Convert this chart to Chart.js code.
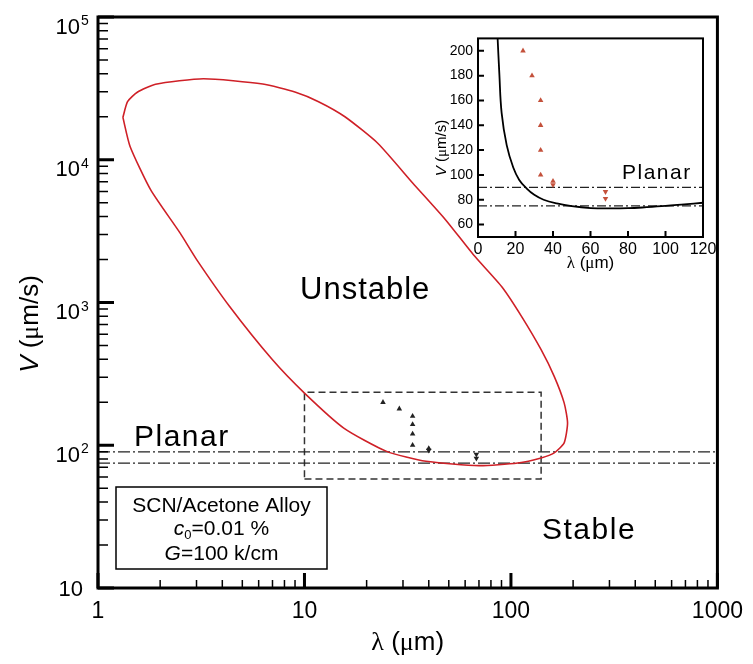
<!DOCTYPE html>
<html>
<head>
<meta charset="utf-8">
<script src="https://cdn.jsdelivr.net/npm/chart.js@4.4.1/dist/chart.umd.min.js"></script>
<style>
  html, body { margin: 0; padding: 0; background: #fff; }
  #wrap { position: relative; width: 753px; height: 664px; }
  #main { position: absolute; left: 0; top: 0; }
  #inset { position: absolute; left: 430px; top: 25px; }
</style>
</head>
<body>
<div id="wrap">
  <canvas id="main" width="753" height="664"></canvas>
  <canvas id="inset" width="295" height="255"></canvas>
</div>
<script>
// red stability loop (lambda in um, V in um/s), traced clockwise from the left tip
const loopLambda = [1.32, 1.39, 1.55, 1.9, 3.24, 6.28, 9.06, 11.7, 15.7, 22.7, 33.5, 48.3, 65.8, 90.3,
  112.5, 140, 162, 181, 188, 181, 162, 140, 108, 70, 38.8, 25, 15.5, 10, 7, 4.34, 3.01, 2.5, 1.8, 1.43, 1.32];
const loopV = [19800, 25500, 29700, 33800, 36900, 33900, 29700, 25500, 20000, 13000, 6850, 3790, 2160, 1290,
  800, 467, 304, 198, 143, 104, 88.4, 81.5, 75.2, 72, 77.2, 90.6, 132, 232, 397, 938, 1990, 3060, 6150, 12400, 19800];

// measured points
const upLambda = [24, 28.8, 33.4, 33.4, 33.4, 33.4, 40];
const upV = [200, 180, 160, 140, 120, 100, 95];
const downLambda = [40, 68, 68];
const downV = [92, 86.5, 81];

// planar limits (dash-dot lines)
const planarV = [90, 75];

// dashed box marking the inset region
const boxLambda = [10, 140];
const boxV = [58, 235];

// inset marginal stability curve
const insetLambda = [10.4, 11.4, 12.6, 15.3, 18.8, 22, 26, 30, 35, 42, 50, 60, 70, 80, 90, 100, 110, 120];
const insetV = [212, 181, 150, 124, 106, 96, 89, 84, 80, 77, 74.8, 73.3, 73, 73.2, 74, 75, 76.3, 77.6];

// axes
const xRangeMain = [1, 1000];
const yRangeMain = [10, 100000];
const xTicksMain = [1, 10, 100, 1000];
const yTicksMain = [10, 100, 1000, 10000, 100000];
const yTickExp = ['', '2', '3', '4', '5'];
const xRangeInset = [0, 120];
const yRangeInset = [50, 210];
const xTicksInset = [0, 20, 40, 60, 80, 100, 120];
const yTicksInset = [60, 80, 100, 120, 140, 160, 180, 200];

const SANS = '"Liberation Sans", Arial, sans-serif';
const SERIF = '"Liberation Serif", "Times New Roman", serif';
const RED = '#cf2027';
const INSET_RED = '#c4513b';

function pts(xs, ys) { return xs.map((x, i) => ({x: x, y: ys[i]})); }

function drawRuns(ctx, runs, x, y, align) {
  // runs: [text, font, dy]
  let w = 0;
  runs.forEach(r => { ctx.font = r[1]; w += ctx.measureText(r[0]).width; });
  let cx = align === 'center' ? x - w / 2 : x;
  ctx.textAlign = 'left';
  runs.forEach(r => {
    ctx.font = r[1];
    ctx.fillText(r[0], cx, y + (r[2] || 0));
    cx += ctx.measureText(r[0]).width;
  });
}

function lineSet(data, color, width, dash, tension) {
  return {data: data, showLine: true, borderColor: color, borderWidth: width, borderDash: dash || [],
    pointRadius: 0, fill: false, tension: tension || 0};
}

function markSet(data, color, r, rot) {
  return {data: data, showLine: false, pointStyle: 'triangle', pointRadius: r, pointRotation: rot,
    pointBackgroundColor: color, pointBorderWidth: 0, pointHoverRadius: r};
}

const planarLines = planarV.map(v => lineSet(pts(xRangeMain, [v, v]), '#222', 1.2, [12, 3, 2, 3]));
const boxData = pts([boxLambda[0], boxLambda[1], boxLambda[1], boxLambda[0], boxLambda[0]],
                    [boxV[0], boxV[0], boxV[1], boxV[1], boxV[0]]);

const mainDecor = {
  id: 'mainDecor',
  afterDatasetsDraw(chart) {
    const {ctx, chartArea: a, scales: {x, y}} = chart;
    ctx.save();
    ctx.strokeStyle = '#000';
    ctx.lineWidth = 1.5;
    ctx.beginPath();
    xTicksMain.slice(0, -1).forEach(d => {
      for (let k = 2; k < 10; k++) {
        const px = x.getPixelForValue(d * k);
        ctx.moveTo(px, a.bottom); ctx.lineTo(px, a.bottom - 8);
      }
    });
    yTicksMain.slice(0, -1).forEach(d => {
      for (let k = 2; k < 10; k++) {
        const py = y.getPixelForValue(d * k);
        ctx.moveTo(a.left, py); ctx.lineTo(a.left + 10, py);
      }
    });
    ctx.stroke();
    ctx.lineWidth = 3;
    ctx.beginPath();
    xTicksMain.forEach(v => {
      const px = x.getPixelForValue(v);
      ctx.moveTo(px, a.bottom); ctx.lineTo(px, a.bottom - 15);
    });
    yTicksMain.forEach(v => {
      const py = y.getPixelForValue(v);
      ctx.moveTo(a.left, py); ctx.lineTo(a.left + 16, py);
    });
    ctx.stroke();
    ctx.strokeRect(a.left, a.top, a.right - a.left, a.bottom - a.top);
    ctx.restore();
  },
  afterDraw(chart) {
    const {ctx, chartArea: a, scales: {y}} = chart;
    ctx.save();
    ctx.fillStyle = '#000';
    ctx.textBaseline = 'alphabetic';
    // y tick labels with exponents
    yTicksMain.forEach((v, i) => {
      const py = y.getPixelForValue(v);
      ctx.font = '22px ' + SANS;
      ctx.textAlign = 'right';
      if (yTickExp[i]) {
        ctx.fillText('10', 80, py + 16.5);
        ctx.font = '14px ' + SANS;
        ctx.textAlign = 'left';
        ctx.fillText(yTickExp[i], 81, py + 8);
      } else {
        ctx.fillText('10', 83, py + 8);
      }
    });
    // axis titles
    drawRuns(ctx, [['λ', '26px ' + SERIF], [' (', '26px ' + SANS], ['μ', '26px ' + SERIF], ['m)', '26px ' + SANS]],
      (a.left + a.right) / 2, 650, 'center');
    ctx.save();
    ctx.translate(38, 324);
    ctx.rotate(-Math.PI / 2);
    drawRuns(ctx, [['V', 'italic 26px ' + SANS], [' (', '26px ' + SANS], ['μ', '26px ' + SERIF], ['m/s)', '26px ' + SANS]],
      0, 0, 'center');
    ctx.restore();
    // region labels
    ctx.textAlign = 'left';
    ctx.letterSpacing = '1px';
    ctx.font = '31px ' + SANS;
    ctx.fillText('Unstable', 300, 299);
    ctx.letterSpacing = '1.5px';
    ctx.font = '30px ' + SANS;
    ctx.fillText('Stable', 542, 539);
    ctx.fillText('Planar', 134, 446);
    ctx.letterSpacing = '0px';
    // alloy box
    ctx.lineWidth = 1.5;
    ctx.strokeStyle = '#000';
    ctx.fillStyle = '#fff';
    ctx.fillRect(116, 487, 211, 82);
    ctx.strokeRect(116, 487, 211, 82);
    ctx.fillStyle = '#000';
    drawRuns(ctx, [['SCN/Acetone Alloy', '21px ' + SANS]], 221.5, 512, 'center');
    drawRuns(ctx, [['c', 'italic 21px ' + SANS], ['0', '13px ' + SANS, 4], ['=0.01 %', '21px ' + SANS]], 221.5, 534.5, 'center');
    drawRuns(ctx, [['G', 'italic 21px ' + SANS], ['=100 k/cm', '21px ' + SANS]], 221.5, 559.5, 'center');
    ctx.restore();
  }
};

new Chart(document.getElementById('main'), {
  type: 'scatter',
  data: {
    datasets: [
      markSet(pts(upLambda, upV), '#222', 3.2, 0),
      markSet(pts(downLambda, downV), '#222', 3.2, 180),
      lineSet(pts(loopLambda, loopV), RED, 1.6, [], 0.2),
      planarLines[0],
      planarLines[1],
      lineSet(boxData, '#333', 1.5, [7, 4])
    ]
  },
  options: {
    responsive: false,
    animation: false,
    devicePixelRatio: 1,
    layout: {padding: {left: 0, top: 17, right: 28, bottom: 0}},
    plugins: {legend: {display: false}, tooltip: {enabled: false}},
    scales: {
      x: {
        type: 'logarithmic', min: xRangeMain[0], max: xRangeMain[1],
        grid: {display: false, drawTicks: false}, border: {display: false},
        afterBuildTicks: s => { s.ticks = xTicksMain.map(v => ({value: v})); },
        afterFit: s => { s.height = 76; },
        ticks: {color: '#000', font: {family: SANS, size: 23}, padding: 10, maxRotation: 0, autoSkip: false,
          callback: v => String(v)}
      },
      y: {
        type: 'logarithmic', min: yRangeMain[0], max: yRangeMain[1],
        grid: {display: false, drawTicks: false}, border: {display: false},
        afterBuildTicks: s => { s.ticks = yTicksMain.map(v => ({value: v})); },
        afterFit: s => { s.width = 98; },
        ticks: {display: false}
      }
    }
  },
  plugins: [mainDecor]
});

const insetDecor = {
  id: 'insetDecor',
  afterDatasetsDraw(chart) {
    const {ctx, chartArea: a, scales: {x, y}} = chart;
    ctx.save();
    ctx.strokeStyle = '#000';
    ctx.lineWidth = 2;
    ctx.beginPath();
    xTicksInset.forEach(v => {
      const px = x.getPixelForValue(v);
      ctx.moveTo(px, a.bottom); ctx.lineTo(px, a.bottom - 6);
    });
    yTicksInset.forEach(v => {
      const py = y.getPixelForValue(v);
      ctx.moveTo(a.left, py); ctx.lineTo(a.left + 6, py);
    });
    ctx.stroke();
    ctx.strokeRect(a.left, a.top, a.right - a.left, a.bottom - a.top);
    ctx.restore();
  },
  afterDraw(chart) {
    const {ctx, chartArea: a} = chart;
    ctx.save();
    ctx.fillStyle = '#000';
    ctx.textBaseline = 'alphabetic';
    drawRuns(ctx, [['λ', '17px ' + SERIF], [' (', '17px ' + SANS], ['μ', '17px ' + SERIF], ['m)', '17px ' + SANS]],
      (a.left + a.right) / 2, 243, 'center');
    ctx.save();
    ctx.translate(16, 123);
    ctx.rotate(-Math.PI / 2);
    drawRuns(ctx, [['V', 'italic 15px ' + SANS], [' (', '15px ' + SANS], ['μ', '15px ' + SERIF], ['m/s)', '15px ' + SANS]],
      0, 0, 'center');
    ctx.restore();
    ctx.letterSpacing = '1.5px';
    ctx.font = '21px ' + SANS;
    ctx.textAlign = 'left';
    ctx.fillText('Planar', 192, 154);
    ctx.restore();
  }
};

new Chart(document.getElementById('inset'), {
  type: 'scatter',
  data: {
    datasets: [
      markSet(pts(upLambda, upV), INSET_RED, 3.2, 0),
      markSet(pts(downLambda, downV), INSET_RED, 3.2, 180),
      lineSet(pts(insetLambda, insetV), '#000', 1.8, [], 0.4),
      lineSet(pts(xRangeInset, [planarV[0], planarV[0]]), '#222', 1.2, [9, 3, 2, 3]),
      lineSet(pts(xRangeInset, [planarV[1], planarV[1]]), '#222', 1.2, [9, 3, 2, 3])
    ]
  },
  options: {
    responsive: false,
    animation: false,
    devicePixelRatio: 1,
    layout: {padding: {left: 0, top: 8, right: 22, bottom: 0}},
    plugins: {legend: {display: false}, tooltip: {enabled: false}},
    scales: {
      x: {
        type: 'linear', min: xRangeInset[0], max: xRangeInset[1],
        grid: {display: false, drawTicks: false}, border: {display: false},
        afterBuildTicks: s => { s.ticks = xTicksInset.map(v => ({value: v})); },
        afterFit: s => { s.height = 43; },
        ticks: {color: '#000', font: {family: SANS, size: 16}, padding: 3, maxRotation: 0, autoSkip: false}
      },
      y: {
        type: 'linear', min: yRangeInset[0], max: yRangeInset[1],
        grid: {display: false, drawTicks: false}, border: {display: false},
        afterBuildTicks: s => { s.ticks = yTicksInset.map(v => ({value: v})); },
        afterFit: s => { s.width = 48; },
        ticks: {color: '#000', font: {family: SANS, size: 14}, padding: 5, autoSkip: false}
      }
    }
  },
  plugins: [insetDecor]
});
</script>
</body>
</html>
